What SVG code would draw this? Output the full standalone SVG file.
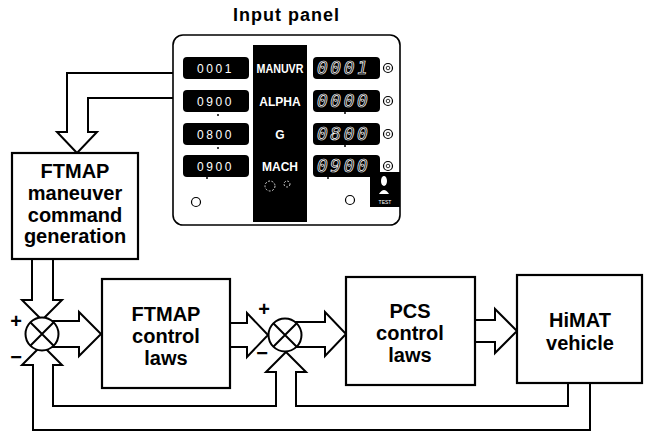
<svg xmlns="http://www.w3.org/2000/svg" width="648" height="440" viewBox="0 0 648 440">
<style>
.w{fill:none;stroke:#000;stroke-width:2;stroke-linejoin:miter}
.box{fill:#fff;stroke:#000;stroke-width:2.2}
.t{font-family:"Liberation Sans",Arial,sans-serif;font-weight:bold;font-size:20px;fill:#000;text-anchor:middle}
.sg{font-family:"Liberation Sans",Arial,sans-serif;font-weight:bold;font-size:20px;fill:#000;text-anchor:middle}
.disp{fill:#000}
.ld{font-family:"Liberation Sans",Arial,sans-serif;font-size:12px;fill:#fff;letter-spacing:2.6px}
.rd{font-family:"DejaVu Sans Mono",monospace;font-style:italic;font-size:18px;fill:none;stroke:#fff;stroke-width:0.7;letter-spacing:2.5px}
.lab{font-family:"Liberation Sans",Arial,sans-serif;font-weight:bold;font-size:12px;fill:#fff;text-anchor:middle}
.knob{fill:#fff;stroke:#000;stroke-width:1.2}
.sum{fill:#fff;stroke:#000;stroke-width:2}
</style>

<text x="286" y="21" class="t" style="font-size:18px" textLength="106" lengthAdjust="spacing">Input panel</text>

<g id="connectors">
  <path class="w" d="M173,73 H67 V132 H57 L77,153 L97,132 H88 V98 H173"/>
  <path class="w" d="M32,258 V300 H22 L42,320 L62,300 H53 V258"/>
  <path class="w" d="M42,321 H79 V312 L101,334 L79,356 V347 H42"/>
  <path class="w" d="M230,323 H247 V313 L268,335 L247,357 V347 H230"/>
  <path class="w" d="M285,322 H325 V312 L346,334 L325,356 V347 H285"/>
  <path class="w" d="M475,320 H495 V309 L517,331 L495,353 V342 H475"/>
  <path class="w" d="M590,383 V430 H33 V365 H22 L42,345 L62,365 H53 V406 H276 V372 H266 L286,352 L306,372 H296 V406 H568 V383"/>
</g>

<g id="panel">
  <rect x="173" y="35" width="227" height="190" rx="10" fill="#fff" stroke="#000" stroke-width="1.6"/>
  <rect x="253" y="45" width="54" height="177" fill="#000"/>
  <g id="left-displays">
    <rect class="disp" x="183" y="57" width="66" height="22" rx="4"/>
    <rect class="disp" x="183" y="90" width="66" height="22" rx="4"/>
    <rect class="disp" x="183" y="123" width="66" height="22" rx="4"/>
    <rect class="disp" x="183" y="155" width="66" height="22" rx="4"/>
    <text class="ld" x="197" y="72.5">0001</text>
    <text class="ld" x="197" y="105.5">0900</text>
    <text class="ld" x="197" y="138.5">0800</text>
    <text class="ld" x="197" y="170.5">0900</text>
    <circle cx="218" cy="115" r="1" fill="#000"/>
    <circle cx="218" cy="148" r="1" fill="#000"/>
    <circle cx="207" cy="178" r="1" fill="#000"/>
  </g>
  <g id="labels">
    <text class="lab" x="280" y="73" textLength="47" lengthAdjust="spacingAndGlyphs">MANUVR</text>
    <text class="lab" x="280" y="106">ALPHA</text>
    <text class="lab" x="280" y="139" font-weight="normal">G</text>
    <text class="lab" x="280" y="171">MACH</text>
    <circle cx="270" cy="186" r="5" fill="none" stroke="#fff" stroke-width="0.8" stroke-dasharray="2 1.5"/>
    <circle cx="287" cy="184" r="3" fill="none" stroke="#fff" stroke-width="0.8" stroke-dasharray="2 1.5"/>
  </g>
  <g id="right-displays">
    <rect class="disp" x="313" y="57" width="67" height="22" rx="4"/>
    <rect class="disp" x="313" y="90" width="67" height="22" rx="4"/>
    <rect class="disp" x="313" y="123" width="67" height="22" rx="4"/>
    <rect class="disp" x="313" y="155" width="67" height="22" rx="4"/>
    <text class="rd" x="317" y="74">0001</text>
    <text class="rd" x="317" y="107">0000</text>
    <text class="rd" x="317" y="140">0800</text>
    <text class="rd" x="317" y="172">0900</text>
    <circle cx="345" cy="113" r="1" fill="#000"/>
    <circle cx="345" cy="146" r="1" fill="#000"/>
    <circle cx="328" cy="178" r="1" fill="#000"/>
    <circle class="knob" cx="388" cy="68" r="4.5"/>
    <circle class="knob" cx="388" cy="101" r="4.5"/>
    <circle class="knob" cx="388" cy="134" r="4.5"/>
    <circle class="knob" cx="388" cy="166" r="4.5"/>
    <circle cx="388" cy="68" r="1.8" fill="none" stroke="#000" stroke-width="0.8"/>
    <circle cx="388" cy="101" r="1.8" fill="none" stroke="#000" stroke-width="0.8"/>
    <circle cx="388" cy="134" r="1.8" fill="none" stroke="#000" stroke-width="0.8"/>
    <circle cx="388" cy="166" r="1.8" fill="none" stroke="#000" stroke-width="0.8"/>
  </g>
  <circle class="knob" cx="196" cy="202" r="4.5"/>
  <circle class="knob" cx="350" cy="200" r="4.5"/>
  <g id="test-switch">
    <path d="M370,172 H400 V207 H370 Z" fill="#000"/>
    <ellipse cx="384" cy="181" rx="3" ry="5" fill="#fff"/>
    <path d="M379,194 Q384,186 389,194 Z" fill="#fff"/>
    <text x="385" y="204" font-family="Liberation Sans, Arial, sans-serif" font-size="5" fill="#fff" text-anchor="middle">TEST</text>
  </g>
</g>

<g id="ftmap-gen">
  <rect class="box" x="12" y="153" width="126" height="106"/>
  <text class="t" x="75" y="178">FTMAP</text>
  <text class="t" x="75" y="200">maneuver</text>
  <text class="t" x="75" y="222">command</text>
  <text class="t" x="75" y="243">generation</text>
</g>

<g id="sum1">
  <circle class="sum" cx="42" cy="334" r="16.5"/>
  <path d="M30.3,322.3 L53.7,345.7 M53.7,322.3 L30.3,345.7" stroke="#000" stroke-width="2"/>
  <text class="sg" x="16" y="328">+</text>
  <text class="sg" x="16" y="364">−</text>
</g>

<g id="ftmap-cl">
  <rect class="box" x="102" y="279" width="128" height="109"/>
  <text class="t" x="166" y="321">FTMAP</text>
  <text class="t" x="166" y="343">control</text>
  <text class="t" x="166" y="365">laws</text>
</g>

<g id="sum2">
  <circle class="sum" cx="285" cy="335" r="16.5"/>
  <path d="M273.3,323.3 L296.7,346.7 M296.7,323.3 L273.3,346.7" stroke="#000" stroke-width="2"/>
  <text class="sg" x="264" y="316">+</text>
  <text class="sg" x="262" y="360">−</text>
</g>

<g id="pcs">
  <rect class="box" x="346" y="277" width="129" height="108"/>
  <text class="t" x="410" y="318">PCS</text>
  <text class="t" x="410" y="340">control</text>
  <text class="t" x="410" y="362">laws</text>
</g>

<g id="himat">
  <rect class="box" x="517" y="275" width="125" height="108"/>
  <text class="t" x="580" y="327">HiMAT</text>
  <text class="t" x="580" y="350">vehicle</text>
</g>
</svg>
